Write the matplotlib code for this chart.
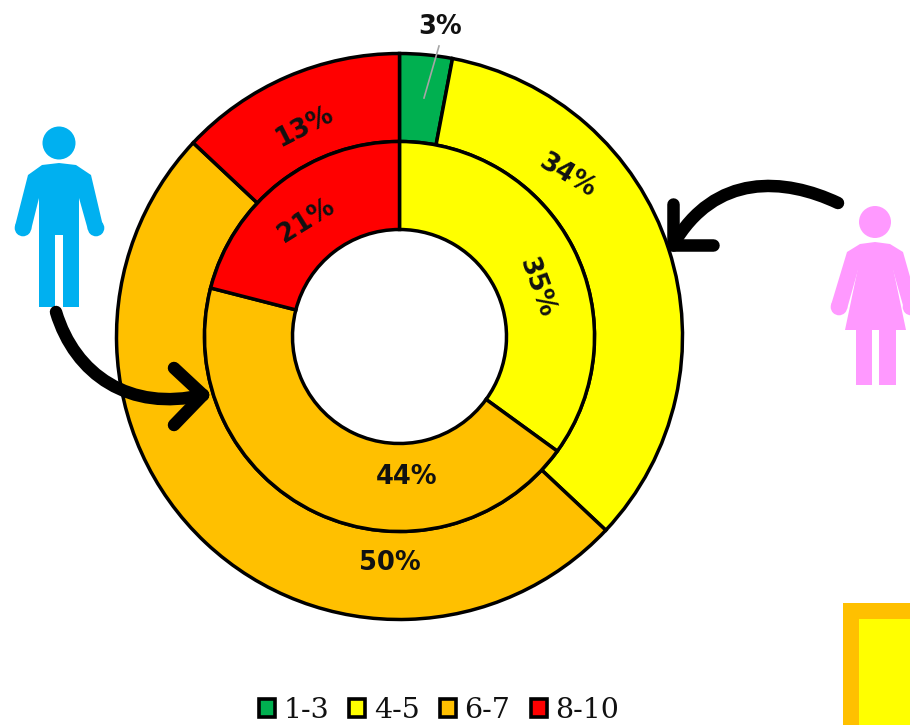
#!/usr/bin/python
import matplotlib
matplotlib.use("Agg")
import matplotlib.pyplot as plt
from matplotlib.patches import Circle, Patch, PathPatch, Polygon, Rectangle
from matplotlib.path import Path

categories = ["1-3", "4-5", "6-7", "8-10"]
cat_colors = ["#00B050", "#FFFF00", "#FFC000", "#FF0000"]

# outer ring is the women, inner ring the men
women_values = [3, 34, 50, 13]
men_values = [0, 35, 44, 21]

W = 910
H = 725


def fy(y):
    # screen style y (from the top) to axis y
    return H - y


def pts(a_xy):
    return [(x, fy(y)) for x, y in a_xy]


def drawPerson(ax, a_shapes, a_circles, color):
    for shape in a_shapes:
        ax.add_patch(Polygon(pts(shape), closed=True, fc=color, ec="none"))
    for c in a_circles:
        ax.add_patch(Circle((c[0], fy(c[1])), c[2], fc=color, ec="none"))


def drawArrow(ax, a_curve, a_barbs):
    curve = Path(pts(a_curve), [Path.MOVETO, Path.CURVE4, Path.CURVE4, Path.CURVE4])
    ax.add_patch(PathPatch(curve, fc="none", ec="black", lw=9, capstyle="round", zorder=5))
    tip = a_curve[-1]
    for b in a_barbs:
        ax.plot([b[0], tip[0]], [fy(b[1]), fy(tip[1])], color="black", lw=9,
                solid_capstyle="round", zorder=5)


fig = plt.figure(figsize=(W / 100, H / 100), dpi=100)
ax = fig.add_axes([0, 0, 1, 1])

center = (399.5, fy(336.5))
edge = dict(edgecolor="black", linewidth=2.5)

ax.pie(women_values, colors=cat_colors, radius=283, center=center, startangle=90,
       counterclock=False, wedgeprops=dict(width=88, **edge))
ax.pie(men_values, colors=cat_colors, radius=195, center=center, startangle=90,
       counterclock=False, wedgeprops=dict(width=88, **edge))

ax.set_xlim(0, W)
ax.set_ylim(0, H)
ax.set_aspect("equal")
ax.set_axis_off()

# leader line for the small slice
ax.plot([439, 424], [fy(46), fy(98)], color="#A6A6A6", lw=1.2)

label_font = dict(family="DejaVu Sans", fontweight="bold", fontsize=18.5, color="#111111",
                  ha="center", va="center")
ax.text(440, fy(27), "3%", **label_font)
ax.text(567, fy(176), "34%", rotation=-31, **label_font)
ax.text(390, fy(563), "50%", **label_font)
ax.text(304, fy(127), "13%", rotation=27, **label_font)
ax.text(536, fy(288), "35%", rotation=-70, **label_font)
ax.text(407, fy(477), "44%", **label_font)
ax.text(306, fy(221), "21%", rotation=32, **label_font)

# man
man_body = [(59, 163), (76, 165), (91, 175), (103, 226), (88, 230), (79, 198), (79, 307),
            (63, 307), (63, 235), (55, 235), (55, 307), (39, 307), (39, 198), (31, 230),
            (15, 226), (28, 175), (42, 165)]
drawPerson(ax, [man_body], [(59, 143, 16.5), (23, 228, 8.3), (96, 228, 8.3)], "#00B0F0")

# woman
woman_top = [(875, 242), (890, 244), (903, 252), (918, 305), (904, 309), (893, 270),
             (858, 270), (847, 309), (831, 305), (847, 252), (860, 244)]
woman_dress = [(858, 268), (893, 268), (906, 330), (896, 330), (896, 385), (879, 385),
               (879, 330), (872, 330), (872, 385), (856, 385), (856, 330), (845, 330)]
drawPerson(ax, [woman_top, woman_dress], [(875, 222, 16), (839, 307, 8.3), (911, 307, 8.3)],
           "#FF99FF")

drawArrow(ax, [(56, 312), (75, 375), (130, 412), (203, 395)], [(174, 368), (174, 425)])
drawArrow(ax, [(838, 203), (785, 178), (715, 172), (673, 245)], [(673, 204), (713, 245)])

# box running off the bottom right corner
ax.add_patch(Rectangle((843, fy(760)), 120, 157, fc="#FFC000", ec="none"))
ax.add_patch(Rectangle((859, fy(760)), 120, 141, fc="#FFFF00", ec="none"))

handles = [Patch(fc=c, ec="black", lw=2.6, joinstyle="round") for c in cat_colors]
lgd = ax.legend(handles, categories, ncol=4, loc="lower left", bbox_to_anchor=(259 / W, 1 / H),
                frameon=False, borderpad=0, borderaxespad=0, handlelength=0.56,
                handleheight=0.56, handletextpad=0.29, columnspacing=0.72,
                prop=dict(family="DejaVu Serif", size=20.5))
for t in lgd.get_texts():
    t.set_color("#111111")

fig.savefig("out.png", dpi=100)
plt.close()
